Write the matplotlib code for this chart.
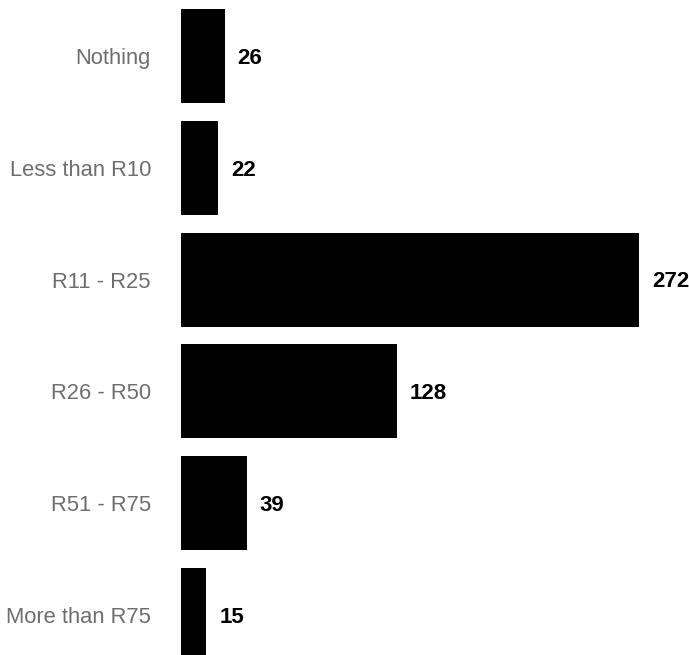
import matplotlib
matplotlib.use('Agg')
import matplotlib.pyplot as plt
import numpy as np

categories = ['Nothing', 'Less than R10', 'R11 - R25', 'R26 - R50', 'R51 - R75', 'More than R75']
counts = [26, 22, 272, 128, 39, 15]

plt.rcParams['font.family'] = ['Liberation Sans', 'DejaVu Sans']

fig = plt.figure(figsize=(6.89, 6.55), dpi=100)
ax = fig.add_axes([181/689, 0, 508/689, 1])

y = np.arange(len(categories))
ax.barh(y, counts, height=0.84, color='black')

for yi, v in zip(y, counts):
    ax.text(v + 7.7, yi + 0.02, str(v), va='center', ha='left', fontsize=16,
            fontweight='bold', color='black', clip_on=False)

ax.set_xlim(0, 301.7)
ax.set_ylim(5.36, -0.503)
ax.set_yticks(y)
ax.set_yticklabels(categories, fontsize=15.8, color='#6e6e6e')
ax.tick_params(axis='y', length=0, pad=21.6)
ax.set_xticks([])
for s in ax.spines.values():
    s.set_visible(False)

plt.savefig('out.png', dpi=100)
